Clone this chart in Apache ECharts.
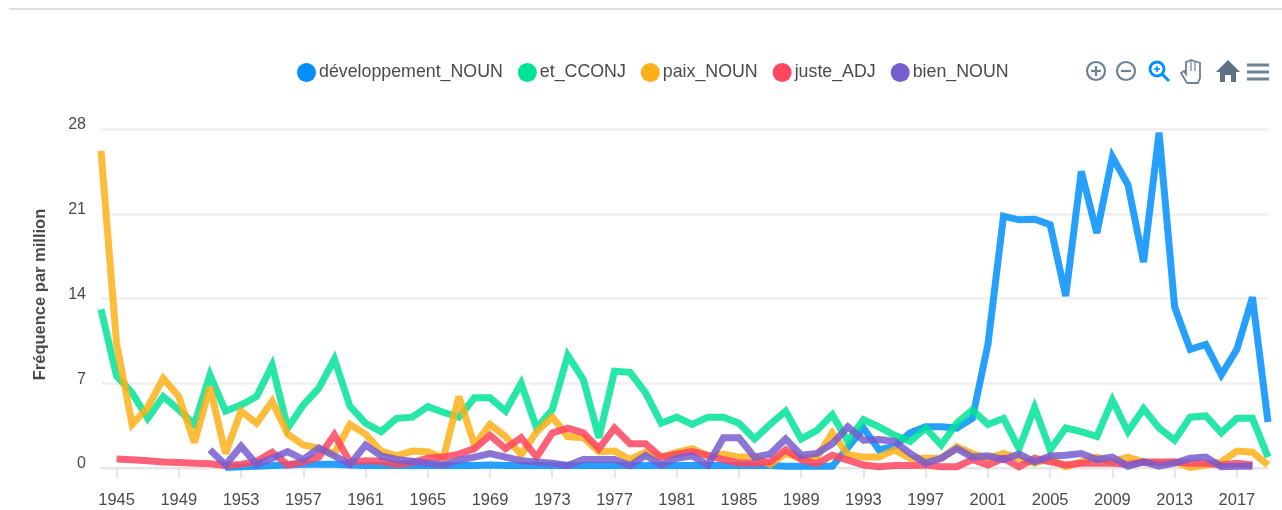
<!DOCTYPE html>
<html>
<head>
<meta charset="utf-8">
<style>
  html, body { margin: 0; padding: 0; background: #fff; }
  #chart { width: 1282px; height: 510px; filter: blur(0.7px); }
</style>
<script src="https://cdn.jsdelivr.net/npm/echarts@6/dist/echarts.min.js"></script>
</head>
<body>
<div id="chart"></div>
<script>
const years = ['1944','1945','1946','1947','1948','1949','1950','1951','1952','1953','1954','1955','1956','1957','1958','1959','1960','1961','1962','1963','1964','1965','1966','1967','1968','1969','1970','1971','1972','1973','1974','1975','1976','1977','1978','1979','1980','1981','1982','1983','1984','1985','1986','1987','1988','1989','1990','1991','1992','1993','1994','1995','1996','1997','1998','1999','2000','2001','2002','2003','2004','2005','2006','2007','2008','2009','2010','2011','2012','2013','2014','2015','2016','2017','2018','2019'];

const developpement = [null,null,null,null,null,null,null,null,0.05,0.1,0.15,0.2,0.25,0.3,0.3,0.3,0.25,0.2,0.2,0.2,0.2,0.2,0.2,0.2,0.2,0.25,0.2,0.2,0.2,0.2,0.2,0.2,0.2,0.2,0.2,0.2,0.2,0.2,0.2,0.2,0.2,0.2,0.2,0.2,0.15,0.15,0.15,0.15,1.7,3.3,1.5,1.8,2.9,3.4,3.4,3.3,4.1,10.2,20.8,20.5,20.55,20.1,14.2,24.5,19.4,25.7,23.4,17,27.7,13.3,9.8,10.2,7.7,9.8,14.1,3.8];
const et = [13.1,7.6,6.2,4.1,5.9,4.8,3.6,7.7,4.7,5.2,5.9,8.5,3.3,5.2,6.6,9,5.1,3.7,3,4.1,4.2,5.07,4.6,4.2,5.8,5.8,4.7,7,3.3,4.8,9.3,7.3,2.5,8,7.9,6.2,3.7,4.2,3.6,4.2,4.2,3.7,2.4,3.6,4.7,2.4,3.1,4.4,2.2,4,3.4,2.7,2.2,3.3,1.9,3.7,4.8,3.6,4.1,1.6,5,1.5,3.3,3,2.6,5.6,3,4.9,3.3,2.3,4.2,4.3,2.9,4.1,4.1,0.9];
const paix = [26.2,10.3,3.6,5,7.4,5.9,2.1,6.7,1.2,4.7,3.7,5.5,2.8,1.9,1.65,1.2,3.6,2.8,1.4,1,1.4,1.35,0.8,5.9,1.9,3.6,2.6,1.1,3,4.2,2.6,2.5,1.35,1.4,0.7,1.3,0.9,1.3,1.6,1,1.15,0.9,0.9,0.3,1.2,0.8,0.9,2.9,1.1,0.9,0.9,1.5,0.8,0.8,0.8,1.75,1.2,0.8,1.2,0.8,0.4,0.8,0.1,0.5,0.9,0.5,0.9,0.5,0.4,0.5,0.05,0.25,0.5,1.4,1.3,0.25];
const juste = [null,0.75,0.68,0.6,0.5,0.45,0.4,0.35,0.2,0.3,0.55,1.3,0.25,0.5,0.9,2.75,0.5,0.6,0.55,0.3,0.45,0.8,0.9,1.15,1.6,2.7,1.6,2.5,0.9,2.9,3.3,2.9,1.6,3.3,2,2,0.9,1.15,1.35,1.05,0.7,0.4,0.4,0.5,1.5,0.7,0.35,1.05,0.65,0.25,0.1,0.2,0.2,0.25,0.1,0.1,0.7,0.25,0.8,0.1,0.8,0.5,0.25,0.4,0.4,0.4,0.3,0.5,0.5,0.5,0.4,0.4,0.25,0.4,0.25,null];
const bien = [null,null,null,null,null,null,null,1.5,0.25,1.8,0.3,0.8,1.35,0.7,1.65,1,0.3,1.9,1,0.7,0.55,0.4,0.25,0.65,0.9,1.2,0.9,0.6,0.5,0.4,0.2,0.7,0.7,0.7,0.2,1.05,0.25,0.8,1,0.25,2.5,2.5,0.9,1.15,2.4,1.05,1.2,2,3.4,2.3,2.35,2.2,1.2,0.4,0.8,1.6,0.9,1,0.7,1.15,0.5,1,1.05,1.2,0.7,0.9,0.15,0.5,0.15,0.4,0.8,0.9,0.1,0.15,0.15,null];
const yTicks = [0, 7, 14, 21, 28];

const colors = ['#008FFB', '#00E396', '#FEB019', '#FF4560', '#775DD0'];
const iconGrey = '#6e8192';

function line(name, data, color) {
  return {
    name: name,
    type: 'line',
    data: data,
    showSymbol: false,
    smooth: false,
    clip: false,
    itemStyle: { color: color },
    lineStyle: { width: 7, color: color, opacity: 0.85, join: 'miter', miterLimit: 3, cap: 'butt' }
  };
}

// chaque 4 ans a partir de 1945
const everyFour = function (i) { return (i - 1) % 4 === 0; };

let myChart = echarts.init(document.getElementById('chart'));
let option = {
  animation: false,
  textStyle: { fontFamily: '"Liberation Sans", Arial, sans-serif' },
  grid: { left: 101, right: 14, top: 129, bottom: 42 },
  legend: {
    left: 292,
    top: 58,
    icon: 'circle',
    itemWidth: 19,
    itemHeight: 19,
    itemGap: 15,
    textStyle: { fontSize: 17.8, color: '#4a4a4a', padding: [0, 0, 0, -2] }
  },
  xAxis: {
    type: 'category',
    boundaryGap: false,
    data: years,
    axisLine: { lineStyle: { color: '#e6e6e6', width: 2 } },
    axisTick: { interval: everyFour, length: 10, lineStyle: { color: '#dedede', width: 1.5 } },
    axisLabel: { interval: everyFour, fontSize: 16.5, color: '#4a4a4a', margin: 24 }
  },
  yAxis: {
    type: 'value',
    min: yTicks[0],
    max: yTicks[4],
    interval: 7,
    name: 'Fréquence par million',
    nameLocation: 'middle',
    nameGap: 52,
    nameTextStyle: { fontSize: 16.5, fontWeight: 'bold', color: '#4a4a4a', padding: [0, 0, 0, 8] },
    axisLine: { show: false },
    axisTick: { show: false },
    axisLabel: { fontSize: 16, color: '#4a4a4a', margin: 15, verticalAlign: 'bottom', lineHeight: 16, padding: [0, 0, -4, 0] },
    splitLine: { lineStyle: { color: '#efefef', width: 2.5 } }
  },
  graphic: [
    { type: 'line', shape: { x1: 9, y1: 9, x2: 1282, y2: 9 }, style: { stroke: '#bdbdbd', lineWidth: 1 } },
    // zoom +
    { type: 'circle', shape: { cx: 1096, cy: 71, r: 9 }, style: { fill: 'none', stroke: iconGrey, lineWidth: 2.2 } },
    { type: 'line', shape: { x1: 1091, y1: 71, x2: 1101, y2: 71 }, style: { stroke: iconGrey, lineWidth: 2.2 } },
    { type: 'line', shape: { x1: 1096, y1: 66, x2: 1096, y2: 76 }, style: { stroke: iconGrey, lineWidth: 2.2 } },
    // zoom -
    { type: 'circle', shape: { cx: 1126, cy: 71, r: 9 }, style: { fill: 'none', stroke: iconGrey, lineWidth: 2.2 } },
    { type: 'line', shape: { x1: 1121, y1: 71, x2: 1131, y2: 71 }, style: { stroke: iconGrey, lineWidth: 2.2 } },
    // loupe
    { type: 'circle', shape: { cx: 1157, cy: 69, r: 7 }, style: { fill: 'none', stroke: '#008FFB', lineWidth: 2.8 } },
    { type: 'line', shape: { x1: 1162, y1: 74, x2: 1169, y2: 81 }, style: { stroke: '#008FFB', lineWidth: 2.8 } },
    { type: 'line', shape: { x1: 1154, y1: 69, x2: 1160, y2: 69 }, style: { stroke: '#008FFB', lineWidth: 1.6 } },
    { type: 'line', shape: { x1: 1157, y1: 66, x2: 1157, y2: 72 }, style: { stroke: '#008FFB', lineWidth: 1.6 } },
    // main
    { type: 'polyline', shape: { points: [[1187, 83], [1181, 73], [1184, 71], [1186, 74], [1186, 62], [1189, 61], [1191, 60], [1194, 61], [1197, 62], [1200, 63], [1200, 78], [1198, 83], [1187, 83]] }, style: { fill: '#fff', stroke: iconGrey, lineWidth: 1.8 } },
    { type: 'line', shape: { x1: 1191, y1: 61, x2: 1191, y2: 71 }, style: { stroke: iconGrey, lineWidth: 1.2 } },
    { type: 'line', shape: { x1: 1195, y1: 61, x2: 1195, y2: 71 }, style: { stroke: iconGrey, lineWidth: 1.2 } },
    // maison
    { type: 'polygon', shape: { points: [[1228, 60], [1240, 72], [1236, 72], [1236, 82], [1231, 82], [1231, 75], [1225, 75], [1225, 82], [1220, 82], [1220, 72], [1216, 72]] }, style: { fill: '#5d7285' } },
    // menu
    { type: 'line', shape: { x1: 1247, y1: 65, x2: 1269, y2: 65 }, style: { stroke: iconGrey, lineWidth: 3 } },
    { type: 'line', shape: { x1: 1247, y1: 72, x2: 1269, y2: 72 }, style: { stroke: iconGrey, lineWidth: 3 } },
    { type: 'line', shape: { x1: 1247, y1: 79, x2: 1269, y2: 79 }, style: { stroke: iconGrey, lineWidth: 3 } }
  ],
  series: [
    line('développement_NOUN', developpement, colors[0]),
    line('et_CCONJ', et, colors[1]),
    line('paix_NOUN', paix, colors[2]),
    line('juste_ADJ', juste, colors[3]),
    line('bien_NOUN', bien, colors[4])
  ]
};
myChart.setOption(option);
</script>
</body>
</html>
